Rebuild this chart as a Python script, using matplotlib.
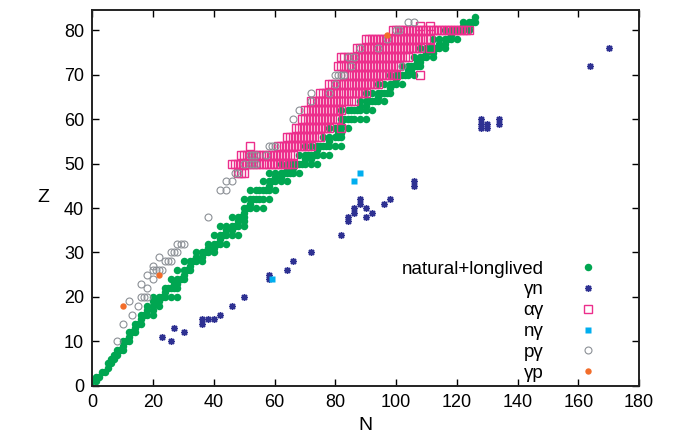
import matplotlib
matplotlib.use("Agg")
import matplotlib.pyplot as plt

# ---------------------------------------------------------------------
# Data
# ---------------------------------------------------------------------
# natural + longlived nuclides: neutron numbers for Z = 1 .. 83
stable_n_by_z = [
    [0, 1], [1, 2], [3, 4], [5], [5, 6], [6, 7], [7, 8], [8, 9, 10], [10],
    [10, 11, 12], [12], [12, 13, 14], [14], [14, 15, 16], [16],
    [16, 17, 18, 20], [18, 20], [18, 20, 22], [20, 21, 22],
    [20, 22, 23, 24, 26, 28], [24], [24, 25, 26, 27, 28], [27, 28],
    [26, 28, 29, 30], [30], [28, 30, 31, 32], [32], [30, 32, 33, 34, 36],
    [34, 36], [34, 36, 37, 38, 40], [38, 40], [38, 40, 41, 42, 44], [42],
    [40, 42, 43, 44, 46, 48], [44, 46], [42, 44, 46, 47, 48, 50], [48, 50],
    [46, 48, 49, 50], [50], [50, 51, 52, 54, 56], [52],
    [50, 52, 53, 54, 55, 56, 58], [], [52, 54, 55, 56, 57, 58, 60], [58],
    [56, 58, 59, 60, 62, 64], [60, 62], [58, 60, 62, 63, 64, 65, 66, 68],
    [64, 66], [62, 64, 65, 66, 67, 68, 69, 70, 72, 74], [70, 72],
    [68, 70, 71, 72, 73, 74, 76, 78], [74],
    [70, 72, 74, 75, 76, 77, 78, 80, 82], [78], [76, 78, 80, 81, 82],
    [81, 82], [78, 80, 82, 84], [82], [82, 83, 84, 85, 86, 88, 90], [],
    [82, 84, 85, 86, 87, 88, 90, 92], [88, 90],
    [88, 90, 91, 92, 93, 94, 96], [94], [90, 92, 94, 95, 96, 97, 98], [98],
    [94, 96, 98, 99, 100, 102], [100], [98, 100, 101, 102, 103, 104, 106],
    [104, 105], [102, 104, 105, 106, 107, 108], [107, 108],
    [106, 108, 109, 110, 112], [110, 112],
    [108, 110, 111, 112, 113, 114, 116], [114, 116],
    [112, 114, 116, 117, 118, 120], [118],
    [116, 118, 119, 120, 121, 122, 124], [122, 124], [122, 124, 125, 126],
    [126],
]

# (gamma,n)
gn_n = [23, 26, 27, 30, 36, 36, 38, 40, 42, 46, 50, 58, 58, 64, 66, 72, 82,
        84, 84, 86, 86, 88, 88, 90, 90, 92, 96, 98, 106, 106,
        128, 128, 128, 130, 130, 134, 134, 164, 170]
gn_z = [11, 10, 13, 12, 15, 14, 15, 15, 16, 18, 20, 25, 24, 26, 28, 30, 34,
        38, 37, 40, 39, 42, 41, 40, 38, 39, 41, 42, 46, 45,
        60, 59, 58, 59, 58, 60, 59, 72, 76]

# (alpha,gamma): rows of even Z with first / last neutron number
ag_row_z = [48, 50, 52, 54, 56, 58, 60, 62, 64, 66, 68, 70, 72, 74, 76, 78, 80]
ag_row_n_lo = [48, 46, 49, 61, 64, 67, 69, 70, 72, 75, 78, 83, 81, 82, 87, 90, 99]
ag_row_n_hi = [50, 66, 66, 72, 75, 78, 81, 82, 86, 90, 94, 100, 101, 104, 108, 111, 124]
ag_extra_n = [52, 82, 108, 111, 108, 111]
ag_extra_z = [54, 58, 70, 76, 81, 81]

# (n,gamma)
ng_n = [59, 86, 88]
ng_z = [24, 46, 48]

# (p,gamma)
pg_n = [8, 10, 13, 12, 15, 16, 17, 18, 18, 16, 20, 18, 20, 21, 22, 23, 20,
        22, 24, 25, 26, 26, 27, 28, 28, 29, 30, 38, 42, 44, 44, 46, 47, 48,
        50, 52, 53, 54, 52, 53, 54, 57, 58, 59, 60, 66, 68, 72, 72, 78, 80,
        80, 81, 82, 83, 85, 84, 86, 88, 94, 97, 100, 101, 104, 106, 102]
pg_z = [10, 14, 16, 19, 18, 20, 20, 20, 22, 23, 24, 25, 26, 26, 26, 26, 27,
        29, 28, 28, 28, 30, 30, 30, 32, 32, 32, 38, 44, 44, 46, 46, 48, 48,
        50, 50, 50, 50, 52, 52, 52, 52, 54, 54, 54, 60, 62, 64, 66, 66, 68,
        70, 70, 70, 70, 72, 74, 74, 76, 76, 78, 80, 80, 82, 82, 72]

# (gamma,p)
gp_n = [10, 22, 97]
gp_z = [18, 25, 79]

labels = ["natural+longlived", "γn", "αγ", "nγ", "pγ", "γp"]

# ---------------------------------------------------------------------
# Expand tables into point lists
# ---------------------------------------------------------------------
stable_n, stable_z = [], []
for z, ns in enumerate(stable_n_by_z, start=1):
    for n in ns:
        stable_n.append(n)
        stable_z.append(z)

ag_n, ag_z = list(ag_extra_n), list(ag_extra_z)
for z, lo, hi in zip(ag_row_z, ag_row_n_lo, ag_row_n_hi):
    for n in range(lo, hi + 1):
        ag_n.append(n)
        ag_z.append(z)

# ---------------------------------------------------------------------
# Plot
# ---------------------------------------------------------------------
plt.rcParams["font.family"] = ["Liberation Sans", "DejaVu Sans"]
plt.rcParams["font.size"] = 13

fig = plt.figure(figsize=(6.77, 4.45), dpi=100)
ax = fig.add_axes([0.1366, 0.1333, 0.8073, 0.8442])

ax.plot(stable_n, stable_z, ls="none", marker="o", ms=5.4, mec="none",
        color="#00a651", label=labels[0])
ax.plot(gn_n, gn_z, ls="none", marker=(8, 2, 0), ms=5, mew=1.0,
        color="#2e3192", label=labels[1])
ax.plot(ag_n, ag_z, ls="none", marker="s", ms=5.2, mew=1.0, mfc="none",
        color="#ec2e8c", label=labels[2])
ax.plot(ng_n, ng_z, ls="none", marker="s", ms=5, mec="none",
        color="#00aeef", label=labels[3])
ax.plot(pg_n, pg_z, ls="none", marker="o", ms=5, mew=0.8, mfc="none",
        color="#8c9096", label=labels[4])
ax.plot(gp_n, gp_z, ls="none", marker="o", ms=4.6, mec="none",
        color="#f26d2a", label=labels[5])

ax.set_xlim(0, 180)
ax.set_ylim(0, 84.6)
ax.set_xticks(range(0, 181, 20))
ax.set_yticks(range(0, 81, 10))
ax.tick_params(direction="in", top=True, right=True, length=5, width=1,
               labelsize=13, pad=6)
for sp in ax.spines.values():
    sp.set_linewidth(1.4)
    sp.set_color("#222222")

ax.set_xlabel("N", fontsize=14, labelpad=4)
ax.set_ylabel("Z", fontsize=14, rotation=0, labelpad=15, va="center")

leg = ax.legend(loc="lower right", bbox_to_anchor=(0.935, 0.0),
                frameon=False, markerfirst=False, handlelength=1.2,
                handletextpad=1.8, labelspacing=0.2, borderpad=0.2,
                borderaxespad=0.0, fontsize=13.5)

fig.savefig("out.png", dpi=100)
